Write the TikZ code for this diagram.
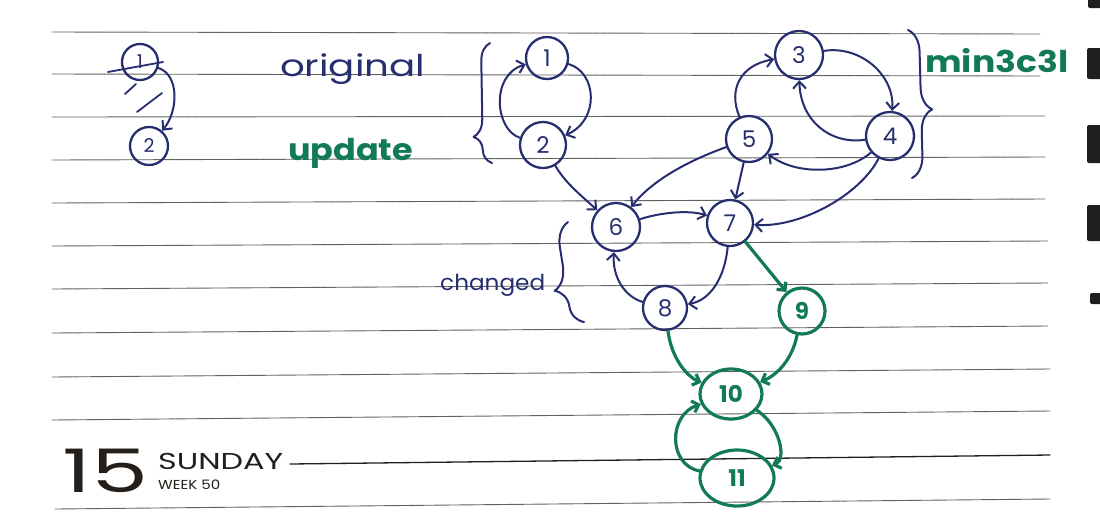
\documentclass[tikz,border=0pt]{standalone}
\usepackage{fontspec}
\setmainfont{Poppins}
\usetikzlibrary{arrows.meta,decorations.pathreplacing,shapes.geometric}
\definecolor{ink}{RGB}{38,46,112}
\definecolor{gink}{RGB}{18,122,88}
\definecolor{rulec}{RGB}{95,95,95}
\definecolor{cal}{RGB}{35,30,25}
\begin{document}
\begin{tikzpicture}[x=1pt,y=-1pt,line cap=round,line join=round]
\tikzset{
  vnode/.style={circle,draw=ink,line width=2.3pt,minimum size=46pt,inner sep=0pt,text=ink,font=\fontsize{23}{23}\selectfont},
  gnode/.style={vnode,draw=gink,text=gink,line width=3.2pt,font=\fontsize{23}{23}\selectfont\bfseries},
  varr/.style={draw=ink,line width=2pt,-{Straight Barb[length=7pt,width=13pt]}},
  garr/.style={draw=gink,line width=3.2pt,-{Straight Barb[length=6pt,width=12pt]}},
  ruleline/.style={draw=rulec,line width=0.9pt,dash pattern=on 1.2pt off 0.5pt},
  braceline/.style={draw=ink,line width=2pt,decorate},
  handtxt/.style={inner sep=0pt,anchor=base west},
  caltxt/.style={inner sep=0pt,anchor=base west,text=cal}
}
\useasboundingbox (0,0) rectangle (1100,531);
\fill[white] (0,0) rectangle (1100,531);
% ruled lines
\draw[ruleline] (52,32) -- (1040,34);
\draw[ruleline] (52,74) -- (1040,76);
\draw[ruleline] (52,117) -- (1045,116);
\draw[ruleline] (52,160) -- (1045,157);
\draw[ruleline] (52,203) -- (1045,199);
\draw[ruleline] (52,246) -- (1048,241);
\draw[ruleline] (52,289) -- (1048,283);
\draw[ruleline] (52,333) -- (1048,326);
\draw[ruleline] (52,377) -- (1050,369);
\draw[ruleline] (52,420) -- (1050,411);
\draw[draw=cal,line width=1.3pt] (290,464) -- (1050,455);
\draw[ruleline] (55,509) -- (1050,499);
% right edge tabs
\fill[black!88,rounded corners=2pt] (1088,-5) rectangle (1105,8);
\fill[black!88,rounded corners=2pt] (1087,48) rectangle (1105,79);
\fill[black!88,rounded corners=2pt] (1087,125) rectangle (1105,163);
\fill[black!88,rounded corners=2pt] (1087,205) rectangle (1105,241);
\fill[black!88,rounded corners=2pt] (1090,293) rectangle (1105,304);
% calendar text
\node[caltxt,font=\fontsize{60}{60}\selectfont] (t15) at (62,492) {\resizebox{86pt}{\height}{15}};
\node[caltxt] (tsun) at (158,469) {\vtop{\baselineskip=20pt\lineskiplimit=-100pt\lineskip=0pt
  \hbox{\fontsize{23}{23}\selectfont\resizebox{125pt}{\height}{SUNDAY}}
  \hbox{\fontsize{13}{13}\selectfont\resizebox{62pt}{\height}{WEEK 50}}}};
% labels
\node[handtxt,text=ink,font=\fontsize{30}{30}\selectfont] (torig) at (280,76) {\resizebox{145pt}{\height}{original}};
\node[handtxt,text=gink,font=\fontsize{30}{30}\selectfont\bfseries] (tupd) at (288,160) {\resizebox{125pt}{\height}{update}};
\node[handtxt,text=ink,font=\fontsize{22}{22}\selectfont] (tchg) at (440,290) {\resizebox{105pt}{\height}{changed}};
\node[handtxt,text=gink,font=\fontsize{30}{30}\selectfont\bfseries] (tmin) at (925,72) {\resizebox{143pt}{\height}{min3c3l}};
% small crossed-out graph
\node[vnode,minimum size=36pt,font=\fontsize{19}{19}\selectfont] (s1) at (140,62) {1};
\node[vnode,minimum size=38pt,font=\fontsize{19}{19}\selectfont] (s2) at (149,146) {2};
\draw[varr] (s1) .. controls (180,75) and (178,112) .. (s2);
\draw[draw=ink,line width=1.8pt] (108,72) -- (163,62);
\draw[draw=ink,line width=1.8pt] (125,94) -- (136,84);
\draw[draw=ink,line width=1.8pt] (137,112) -- (162,93);
% main nodes
\node[vnode,minimum size=42pt] (n1) at (547,58) {1};
\node[vnode] (n2) at (543,145) {2};
\node[vnode,minimum size=48pt] (n3) at (799,55) {3};
\node[vnode,minimum size=48pt] (n4) at (890,136) {4};
\node[vnode] (n5) at (749,139) {5};
\node[vnode,minimum size=48pt] (n6) at (616,227) {6};
\node[vnode] (n7) at (730,223) {7};
\node[vnode,minimum size=44pt] (n8) at (665,308) {8};
\node[gnode] (n9) at (802,311) {9};
\node[gnode,ellipse,minimum width=62pt,minimum height=50pt] (n10) at (731,394) {10};
\node[gnode,ellipse,minimum width=74pt,minimum height=56pt] (n11) at (737,478) {11};
% blue edges
\draw[varr] (n1) .. controls (597,72) and (600,120) .. (n2);
\draw[varr] (n2) .. controls (495,130) and (490,75) .. (n1);
\draw[varr] (n2) .. controls (565,182) and (577,192) .. (n6);
\draw[varr] (n5) .. controls (690,160) and (652,180) .. (n6);
\draw[varr] (n5) .. controls (728,90) and (740,65) .. (n3);
\draw[varr] (n3) .. controls (860,45) and (895,75) .. (n4);
\draw[varr] (n4) .. controls (830,145) and (800,120) .. (n3);
\draw[varr] (n4) .. controls (845,175) and (795,175) .. (n5);
\draw[varr] (n5) -- (n7);
\draw[varr] (n4) .. controls (860,195) and (800,228) .. (n7);
\draw[varr] (n6) .. controls (662,212) and (690,210) .. (n7);
\draw[varr] (n7) .. controls (725,275) and (712,300) .. (n8);
\draw[varr] (n8) .. controls (625,297) and (612,277) .. (n6);
% green edges
\draw[garr] (n7) -- (n9);
\draw[garr] (n8) .. controls (672,362) and (690,378) .. (n10);
\draw[garr] (n9) .. controls (792,360) and (777,375) .. (n10);
\draw[garr] (n10) .. controls (780,425) and (787,460) .. (n11);
\draw[garr] (n11) .. controls (668,465) and (668,415) .. (n10);
% braces
\draw[braceline,decoration={brace,amplitude=18pt,aspect=0.22}] (492,163) -- (490,43);
\draw[braceline,decoration={brace,amplitude=22pt,aspect=0.54}] (908,30) -- (912,178);
\draw[braceline,decoration={brace,amplitude=24pt,aspect=0.35}] (584,322) -- (568,222);
\end{tikzpicture}
\end{document}
